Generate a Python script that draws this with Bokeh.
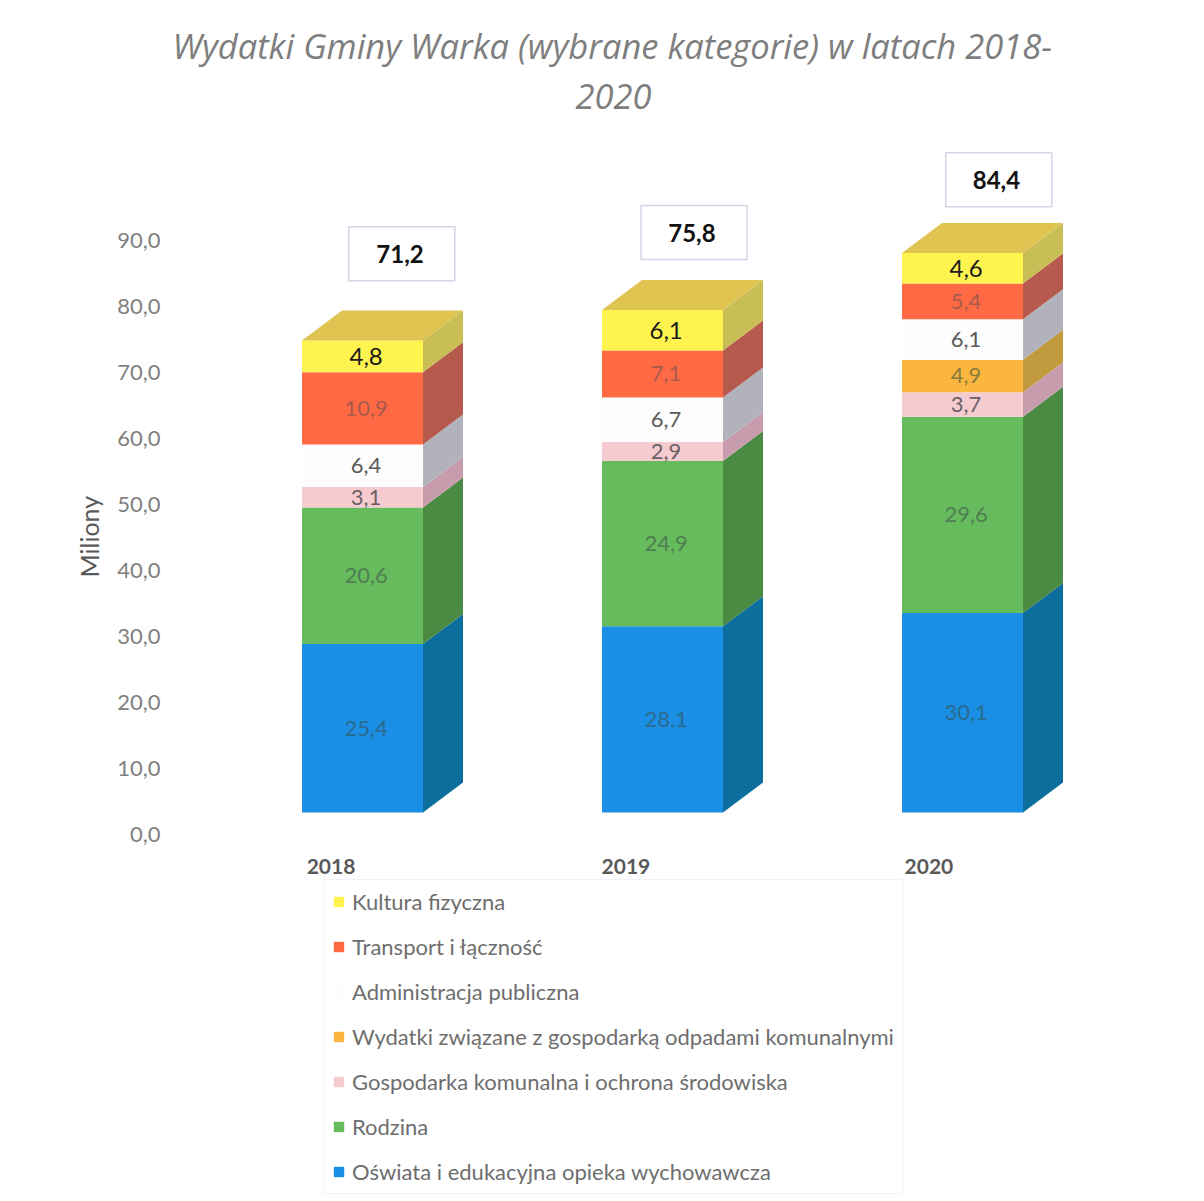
from bokeh.plotting import figure
from bokeh.embed import file_html
from bokeh.resources import INLINE
from bokeh.core.properties import value
from bokeh.models import (Range1d, FixedTicker, Legend, LegendItem, Title, ColumnDataSource)

title_lines = ["Wydatki Gminy Warka (wybrane kategorie) w latach 2018-", "2020"]
y_axis_title = "Miliony"
years = ["2018", "2019", "2020"]
series_names = [
    "Oświata i edukacyjna opieka wychowawcza",
    "Rodzina",
    "Gospodarka komunalna i ochrona środowiska",
    "Wydatki związane z gospodarką odpadami komunalnymi",
    "Administracja publiczna",
    "Transport i łączność",
    "Kultura fizyczna",
]
oswiata = [25.4, 28.1, 30.1]
rodzina = [20.6, 24.9, 29.6]
gospodarka = [3.1, 2.9, 3.7]
odpady = [0.0, 0.0, 4.9]
administracja = [6.4, 6.7, 6.1]
transport = [10.9, 7.1, 5.4]
kultura = [4.8, 6.1, 4.6]
totals = [71.2, 75.8, 84.4]
y_ticks = [0, 10, 20, 30, 40, 50, 60, 70, 80, 90]
y_tick_labels = ["0,0", "10,0", "20,0", "30,0", "40,0", "50,0", "60,0", "70,0", "80,0", "90,0"]

all_series = [oswiata, rodzina, gospodarka, odpady, administracja, transport, kultura]
front_colors = ["#1B8FE6", "#66BB5C", "#F6CBD0", "#FBB63F", "#FDFDFD", "#FF6A45", "#FFF44F"]
side_colors = ["#0C6E9C", "#4B8A42", "#C79DAE", "#C29A3E", "#B2B2BC", "#B65A4E", "#C9BD55"]
label_colors = ["#2A6A8C", "#4F7F52", "#6A5F66", "#8A7A3C", "#5A5A5A", "#A85A4C", "#1A1A1A"]
label_sizes = ["22px", "22px", "22px", "22px", "22px", "22px", "24px"]
top_color = "#E0C452"

# layout constants (pixels)
PX_X = 300.0
PX_Y = 6.6
PX_FRONT = 6.63
FRAME_LEFT, FRAME_RIGHT, FRAME_TOP, FRAME_BOTTOM = 168, 1196, 120, 1196
AXIS_ROW = 850
CANVAS_BOTTOM = 1200
ZERO_AXIS, ZERO_FRONT = 834, 812
CENTER0 = 362.0
BAR_W = 121 / PX_X
DX, DY = 40 / PX_X, 30 / PX_FRONT

x_pos = [0, 1, 2]
year_label_x = [-0.105, 0.878, 1.888]
total_dx = [0.131, 0.105, 0.121]
total_text_dx = [0.125, 0.098, 0.113]
total_y = [88.0, 91.2, 99.2]

p = figure(
    width=FRAME_RIGHT, height=CANVAS_BOTTOM,
    x_range=Range1d((FRAME_LEFT - CENTER0) / PX_X, (FRAME_RIGHT - CENTER0) / PX_X),
    y_range=Range1d((ZERO_AXIS - FRAME_BOTTOM) / PX_Y, (ZERO_AXIS - FRAME_TOP) / PX_Y),
    output_backend="svg", toolbar_location=None,
    min_border_left=FRAME_LEFT, min_border_right=0, min_border_top=FRAME_TOP,
    min_border_bottom=CANVAS_BOTTOM - FRAME_BOTTOM,
    background_fill_color="white", border_fill_color="white",
)
p.extra_y_ranges = {"front": Range1d((ZERO_FRONT - FRAME_BOTTOM) / PX_FRONT, (ZERO_FRONT - FRAME_TOP) / PX_FRONT)}
p.outline_line_color = None
p.grid.visible = False

FONT = "Lato"
# title: two lines, first added last because "above" panels stack outwards
title_offsets = [4, 407]
title_standoffs = [2, 24]
for line, off, st in zip(title_lines[::-1], title_offsets[::-1], title_standoffs[::-1]):
    p.add_layout(Title(text=line, align="left", offset=off, text_font="Open Sans", text_font_style="italic",
                       text_font_size="34.5px", text_color="#7E7E7E", standoff=st), "above")

# axes
ya = p.yaxis[0]
ya.ticker = FixedTicker(ticks=y_ticks)
ya.major_label_overrides = dict(zip(y_ticks, y_tick_labels))
ya.axis_line_color = None
ya.major_tick_line_color = None
ya.minor_tick_line_color = None
ya.major_tick_out = 0
ya.major_tick_in = 0
ya.major_label_standoff = 8
ya.major_label_text_font = FONT
ya.major_label_text_font_size = "22px"
ya.major_label_text_color = "#7F7F7F"
p.add_layout(Title(text=y_axis_title, align="left", offset=FRAME_BOTTOM - 577, standoff=21,
                   text_font=FONT, text_font_style="normal", text_font_size="25px", text_color="#595959"), "left")

xa = p.xaxis[0]
xa.ticker = FixedTicker(ticks=year_label_x)
xa.major_label_overrides = dict(zip(year_label_x, years))
xa.fixed_location = (ZERO_AXIS - AXIS_ROW) / PX_Y
xa.axis_line_color = None
xa.major_tick_line_color = None
xa.minor_tick_line_color = None
xa.major_tick_out = 0
xa.major_tick_in = 0
xa.major_label_standoff = 8
xa.major_label_text_font = FONT
xa.major_label_text_font_style = "bold"
xa.major_label_text_font_size = "21px"
xa.major_label_text_color = "#595959"

# stacked 3D bars
renderers = []
lx, ly, lt, lc, ls = [], [], [], [], []
bottoms = [0.0, 0.0, 0.0]
for vals, fc, sc, tc, ts in zip(all_series, front_colors, side_colors, label_colors, label_sizes):
    tops = [b + v for b, v in zip(bottoms, vals)]
    xs, ys = [], []
    for i in x_pos:
        r = i + BAR_W / 2
        xs.append([r, r + DX, r + DX, r])
        ys.append([bottoms[i], bottoms[i] + DY, tops[i] + DY, tops[i]])
    p.patches(xs, ys, fill_color=sc, line_color=None, y_range_name="front")
    rr = p.vbar(x=x_pos, bottom=bottoms, top=tops, width=BAR_W, fill_color=fc, line_color=None,
                y_range_name="front")
    renderers.append(rr)
    for i in x_pos:
        if vals[i] > 0:
            lx.append(i + 0.012)
            ly.append((bottoms[i] + tops[i]) / 2)
            lt.append(f"{vals[i]:.1f}".replace(".", ","))
            lc.append(tc)
            ls.append(ts)
    bottoms = tops

# top faces
top_xs, top_ys = [], []
for i in x_pos:
    l, r = i - BAR_W / 2, i + BAR_W / 2
    top_xs.append([l, r, r + DX, l + DX])
    top_ys.append([bottoms[i], bottoms[i], bottoms[i] + DY, bottoms[i] + DY])
p.patches(top_xs, top_ys, fill_color=top_color, line_color=None, y_range_name="front")

# value labels
p.text(x="x", y="y", text="t", text_color="c", text_font_size="s",
       source=ColumnDataSource(dict(x=lx, y=ly, t=lt, c=lc, s=ls)), y_range_name="front",
       text_font=value(FONT), text_align="center", text_baseline="middle")

# total boxes
box_x = [i + d for i, d in zip(x_pos, total_dx)]
text_x = [i + d for i, d in zip(x_pos, total_text_dx)]
p.rect(x=box_x, y=total_y, width=106, height=54, width_units="screen", height_units="screen",
       fill_color="white", line_color="#D4D4E6", line_width=1.5)
p.text(x=text_x, y=total_y, text=[f"{v:.1f}".replace(".", ",") for v in totals],
       text_font=value(FONT), text_font_style="bold", text_font_size="24px", text_color="#111111",
       text_align="center", text_baseline="middle")

# legend (top to bottom = reverse of the stack)
items = [LegendItem(label=n, renderers=[r]) for n, r in zip(series_names[::-1], renderers[::-1])]
legend = Legend(items=items, orientation="vertical", location=(155, 2), margin=0, padding=8,
                glyph_width=13, glyph_height=13, label_standoff=7, spacing=18,
                label_height=24, label_text_font=FONT, label_text_font_size="22px",
                label_text_color="#6E6E6E", border_line_color="#E6E6F0", border_line_width=1.5,
                background_fill_color="white", background_fill_alpha=1.0)
p.add_layout(legend, "center")

open("out.html", "w").write(file_html(p, INLINE))
